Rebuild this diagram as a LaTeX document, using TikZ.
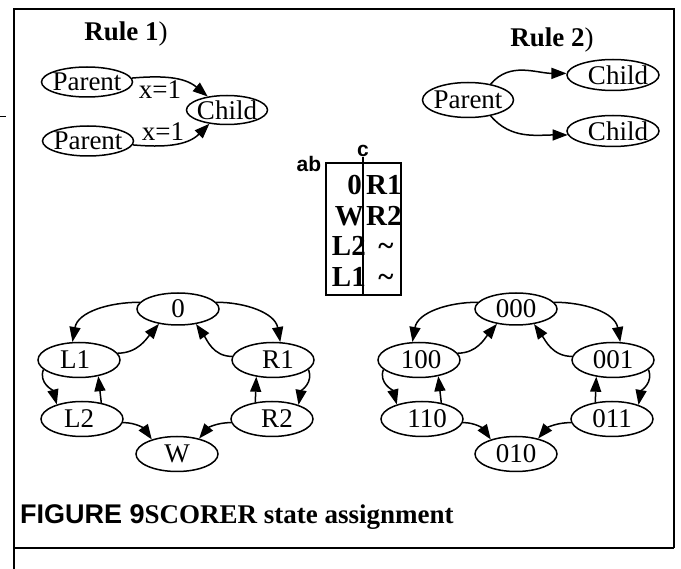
\documentclass[tikz,border=0pt]{standalone}
\usepackage{fontspec}
\setmainfont{Liberation Serif}
\setsansfont{Liberation Sans}
\usetikzlibrary{arrows.meta,shapes.geometric}
\begin{document}
\begin{tikzpicture}[x=1pt,y=1pt,
  txt/.style={inner sep=0pt, font=\fontsize{27}{27}\selectfont},
  st/.style={ellipse, draw, line width=1.5pt, inner xsep=-30pt, inner ysep=-15pt, minimum width=82pt, minimum height=35pt, font=\fontsize{27}{27}\selectfont},
  sttop/.style={st, minimum height=32pt},
  pa/.style={st, minimum width=91pt, minimum height=30pt},
  ch/.style={st, minimum width=81pt, minimum height=29pt},
  pb/.style={st, minimum width=91pt, minimum height=35pt},
  cb/.style={st, minimum width=92pt, minimum height=31pt},
  edge/.style={line width=1.5pt, -{Triangle[length=15pt,width=11pt]}},
  tb/.style={inner sep=0pt, font=\bfseries\fontsize{29}{29}\selectfont},
  hd/.style={inner sep=0pt, font=\sffamily\bfseries\fontsize{21}{21}\selectfont},
  frame/.style={line width=2pt}
  ]
\useasboundingbox (0,0) rectangle (681,-569);
% frame
\draw[frame] (14,-569) -- (14,-9) -- (674,-9) -- (674,-548);
\draw[line width=1.5pt] (14,-548) -- (674,-548);
\draw[line width=1pt] (0,-117) -- (6,-117);

% Rule 1
\node[txt] (rule1) at (126,-34) {\textbf{Rule 1})};
\node[pa] (p1) at (87,-82) {Parent};
\node[pa] (p2) at (88,-141) {Parent};
\node[ch] (c0) at (227,-110) {Child};
\draw[edge] (p1.5) to[out=5,in=140] (c0.145);
\draw[edge] (p2.-5) to[out=-5,in=225] (c0.218);
\node[txt] (lab1) at (160,-90) {x=1};
\node[txt] (lab2) at (163,-132) {x=1};

% Rule 2
\node[txt] (rule2) at (552,-40) {\textbf{Rule 2})};
\node[pb] (pp) at (468,-100) {Parent};
\node[cb] (cc1) at (613,-75) {\hspace*{10pt}Child};
\node[cb] (cc2) at (613,-131) {\hspace*{10pt}Child};
\draw[edge] (pp.35) to[out=50,in=180] (cc1.178);
\draw[edge] (pp.-35) to[out=-50,in=180] (cc2.185);

% table
\node[draw, line width=1.5pt, minimum width=75pt, minimum height=132pt, inner sep=0pt] (tbl) at (363.5,-229) {};
\node[hd] (hc) at (363,-151) {c};
\node[hd] (hab) at (309,-164) {ab};
\draw[line width=1.5pt] (hc.south) -- (hc.south |- tbl.south);
\node[tb, anchor=east] (a1) at (362,-185) {0};
\node[tb, anchor=east] (a2) at (364,-216) {W};
\node[tb, anchor=east] (a3) at (366,-246) {L2};
\node[tb, anchor=east] (a4) at (366,-277) {L1};
\node[tb, anchor=west] (b1) at (366,-185) {R1};
\node[tb, anchor=west] (b2) at (366,-216) {R2};
\node[tb] (b3) at (386,-249) {\textasciitilde};
\node[tb] (b4) at (386,-280) {\textasciitilde};

% left state graph
\node[sttop] (z) at (178,-309) {0};
\node[st] (L1) at (79,-360) {L1\hspace*{8pt}};
\node[st] (L2) at (82,-419) {L2\hspace*{6pt}};
\node[st] (W) at (177,-454) {W};
\node[st] (R1) at (273,-360) {\hspace*{10pt}R1};
\node[st] (R2) at (272,-419) {\hspace*{10pt}R2};
\draw[edge] (z.170) to[out=180,in=80] (L1.110);
\draw[edge] (L1.10) to[out=0,in=230] (z.218);
\draw[edge] (z.10) to[out=0,in=100] (R1.68);
\draw[edge] (R1.175) to[out=180,in=-55] (z.-40);
\draw[edge] (L1.195) to[out=250,in=105] (L2.150);
\draw[edge] (L2.40) -- (L1.-40);
\draw[edge] (R1.-15) to[out=-70,in=80] (R2.28);
\draw[edge] (R2.135) -- (R1.-135);
\draw[edge] (L2.-5) to[out=0,in=125] (W.150);
\draw[edge] (R2.185) to[out=180,in=50] (W.35);

% right state graph
\node[sttop] (s000) at (516,-309) {000};
\node[st] (s100) at (419,-360) {\hspace*{4pt}100};
\node[st] (s110) at (422,-419) {\hspace*{10pt}110};
\node[st] (s010) at (516,-454) {010};
\node[st] (s001) at (613,-360) {001};
\node[st] (s011) at (612,-419) {011};
\draw[edge] (s000.170) to[out=180,in=80] (s100.110);
\draw[edge] (s100.10) to[out=0,in=230] (s000.218);
\draw[edge] (s000.10) to[out=0,in=100] (s001.68);
\draw[edge] (s001.175) to[out=180,in=-55] (s000.-40);
\draw[edge] (s100.195) to[out=250,in=105] (s110.150);
\draw[edge] (s110.40) -- (s100.-40);
\draw[edge] (s001.-15) to[out=-70,in=80] (s011.28);
\draw[edge] (s011.135) -- (s001.-135);
\draw[edge] (s110.-5) to[out=0,in=125] (s010.150);
\draw[edge] (s011.185) to[out=180,in=50] (s010.35);

% caption
\node[inner sep=0pt, anchor=west] (cap) at (20,-517) {\bfseries\fontsize{27}{27}\selectfont\sffamily FIGURE 9\rmfamily SCORER state assignment};
\end{tikzpicture}
\end{document}
